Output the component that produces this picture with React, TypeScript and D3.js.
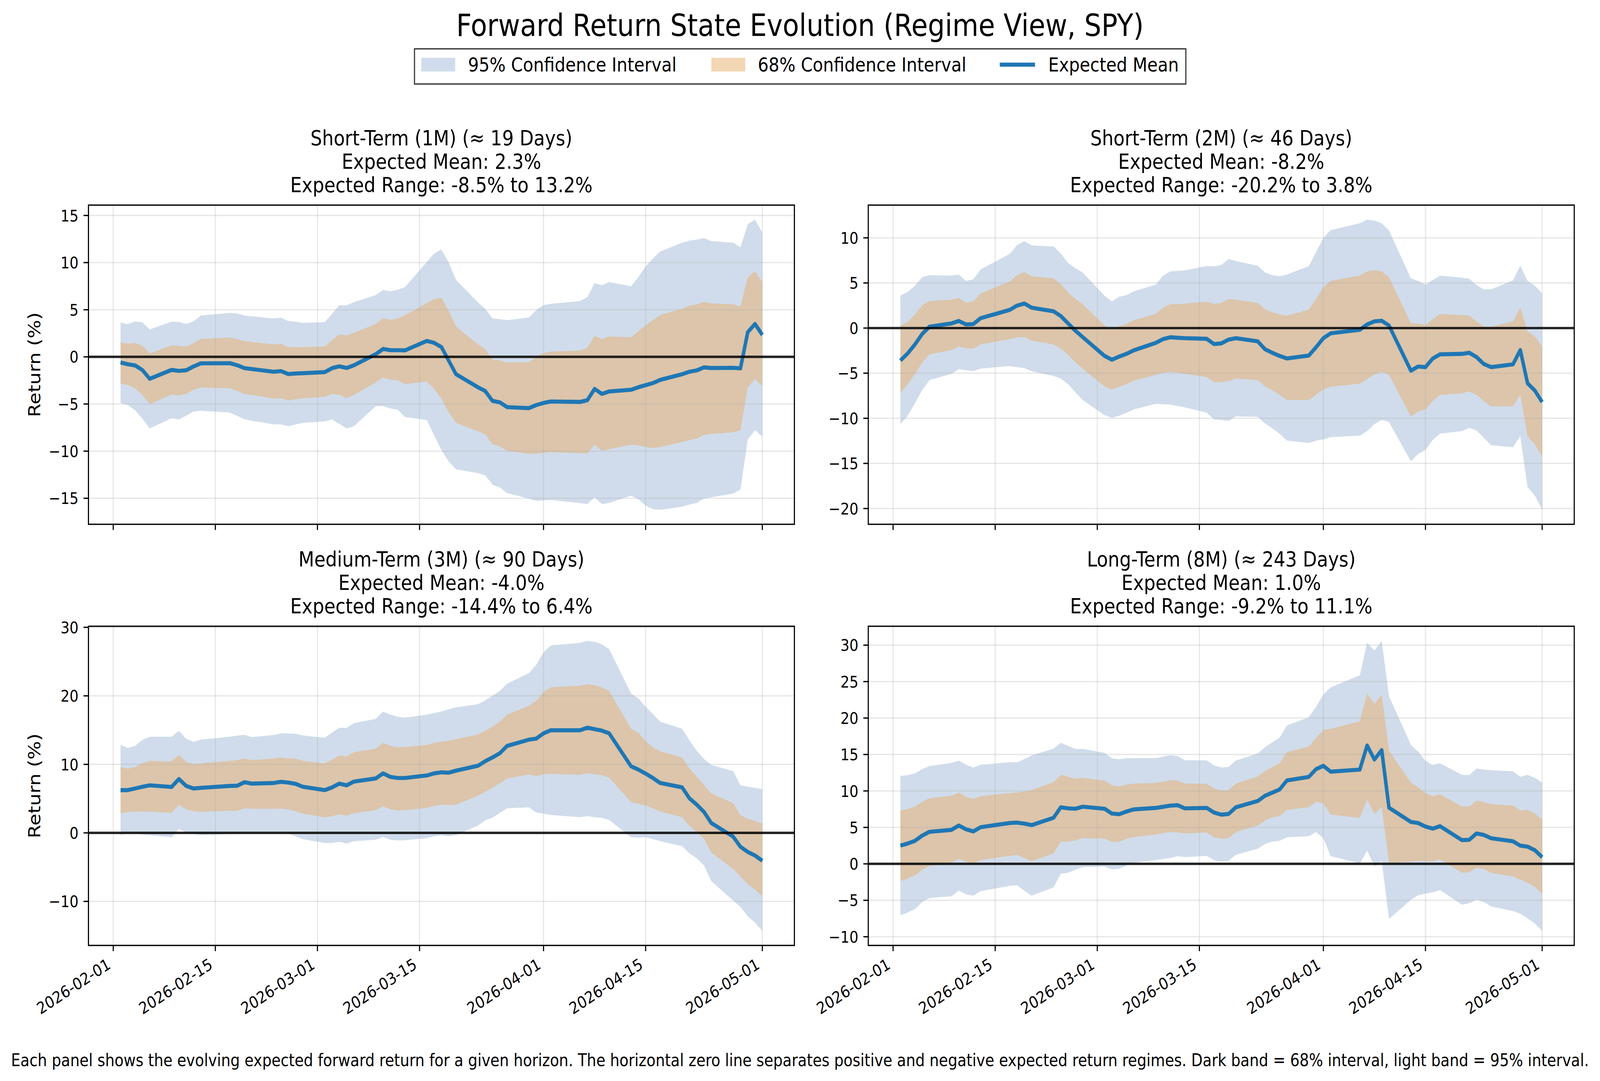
import React, { useEffect } from "react";
import * as d3 from "d3";

// ---------------- DATA ----------------
const DATES = [
  "2026-02-02","2026-02-03","2026-02-04","2026-02-05","2026-02-06","2026-02-09","2026-02-10","2026-02-11","2026-02-12","2026-02-13",
  "2026-02-17","2026-02-18","2026-02-19","2026-02-20","2026-02-23","2026-02-24","2026-02-25","2026-02-26","2026-02-27",
  "2026-03-02","2026-03-03","2026-03-04","2026-03-05","2026-03-06","2026-03-09","2026-03-10","2026-03-11","2026-03-12","2026-03-13",
  "2026-03-16","2026-03-17","2026-03-18","2026-03-19","2026-03-20","2026-03-23","2026-03-24","2026-03-25","2026-03-26","2026-03-27",
  "2026-03-30","2026-03-31",
  "2026-04-01","2026-04-02","2026-04-06","2026-04-07","2026-04-08","2026-04-09","2026-04-10","2026-04-13","2026-04-14","2026-04-15",
  "2026-04-16","2026-04-17","2026-04-20","2026-04-21","2026-04-22","2026-04-23","2026-04-24","2026-04-27","2026-04-28","2026-04-29",
  "2026-04-30","2026-05-01",
];

const X_TICKS = ["2026-02-01","2026-02-15","2026-03-01","2026-03-15","2026-04-01","2026-04-15","2026-05-01"];

// Panel 1: Short-Term (1M)
const MEAN_1M = [-0.60,-0.78,-0.91,-1.40,-2.33,-1.38,-1.49,-1.42,-1.02,-0.69,-0.67,-0.89,-1.20,-1.29,-1.58,-1.51,-1.82,-1.76,-1.73,-1.62,-1.20,-1.00,-1.18,-0.89,0.29,0.84,0.71,0.71,0.69,1.69,1.49,1.04,-0.40,-1.84,-3.22,-3.62,-4.67,-4.82,-5.33,-5.44,-5.11,-4.89,-4.73,-4.78,-4.60,-3.40,-3.93,-3.67,-3.49,-3.22,-3.00,-2.78,-2.44,-1.84,-1.58,-1.44,-1.11,-1.18,-1.16,-1.22,2.62,3.49,2.33];
const HI95_1M = [3.62,3.49,3.76,3.67,2.91,3.73,3.71,3.49,3.76,4.38,4.67,4.60,4.38,4.31,4.07,4.16,3.80,3.73,3.60,3.69,4.56,5.49,5.47,5.80,6.56,7.09,6.96,7.13,7.40,10.07,10.96,11.40,10.00,8.16,5.78,5.11,4.07,4.00,3.89,4.18,4.96,5.49,5.62,5.93,6.33,7.82,7.60,7.93,7.49,8.44,9.60,10.44,11.18,12.11,12.33,12.44,12.60,12.29,12.11,11.62,14.07,14.56,13.18];
const HI68_1M = [1.53,1.40,1.47,1.18,0.36,1.22,1.16,1.09,1.44,1.89,2.04,1.89,1.67,1.58,1.31,1.38,1.04,1.04,1.02,1.11,1.76,2.38,2.27,2.56,3.49,4.09,3.93,4.07,4.40,5.71,6.11,6.27,4.89,3.22,1.33,0.84,-0.29,-0.38,-0.60,-0.56,0.00,0.40,0.56,0.67,0.96,2.22,1.89,2.16,2.07,2.73,3.33,3.89,4.44,5.11,5.44,5.56,5.82,5.67,5.58,5.33,8.44,9.07,7.93];
const LO68_1M = [-2.82,-3.00,-3.33,-4.07,-5.00,-4.00,-4.09,-3.93,-3.49,-3.24,-3.33,-3.62,-3.96,-4.04,-4.42,-4.40,-4.62,-4.49,-4.40,-4.24,-3.93,-4.04,-4.38,-4.02,-2.73,-2.18,-2.44,-2.49,-2.89,-2.60,-3.40,-4.44,-5.89,-7.00,-7.89,-8.22,-9.27,-9.49,-9.96,-10.29,-10.27,-10.18,-10.11,-10.22,-10.24,-9.33,-9.96,-9.78,-9.33,-9.38,-9.56,-9.67,-9.56,-9.04,-8.82,-8.67,-8.27,-8.18,-8.00,-7.78,-3.22,-2.33,-3.11];
const LO95_1M = [-4.91,-5.11,-5.67,-6.56,-7.58,-6.51,-6.64,-6.24,-5.80,-5.71,-5.91,-6.27,-6.62,-6.78,-7.16,-7.16,-7.36,-7.16,-7.00,-6.84,-6.64,-7.11,-7.58,-7.36,-5.22,-5.22,-5.47,-5.60,-6.38,-6.69,-8.33,-9.89,-11.11,-11.93,-12.33,-12.56,-13.56,-13.84,-14.44,-15.04,-15.27,-15.22,-15.18,-15.51,-15.60,-14.89,-15.62,-15.49,-14.73,-15.11,-15.78,-16.16,-16.22,-15.89,-15.67,-15.49,-15.04,-14.89,-14.51,-14.07,-8.78,-7.78,-8.44];

// Panel 2: Short-Term (2M)
const MEAN_2M = [-3.60,-2.81,-1.81,-0.65,0.16,0.51,0.79,0.40,0.44,1.09,2.02,2.49,2.72,2.26,1.86,1.33,0.51,-0.30,-1.00,-3.09,-3.51,-3.16,-2.86,-2.47,-1.65,-1.23,-1.02,-1.07,-1.12,-1.19,-1.77,-1.70,-1.28,-1.12,-1.47,-2.35,-2.74,-3.09,-3.37,-3.05,-2.12,-1.12,-0.58,-0.19,0.40,0.74,0.81,0.28,-4.72,-4.26,-4.33,-3.37,-2.91,-2.86,-2.74,-3.21,-3.98,-4.33,-4.02,-2.44,-6.12,-6.93,-8.20];
const HI95_2M = [3.60,4.00,4.70,5.63,5.86,5.81,5.93,5.23,5.40,6.49,8.23,9.19,9.63,9.16,9.05,8.26,7.21,6.63,6.16,3.58,2.95,3.47,3.65,4.07,4.81,5.79,6.28,6.33,6.40,6.86,6.84,6.98,7.65,7.42,6.91,6.16,5.86,5.74,5.93,6.86,8.42,9.98,10.86,11.63,12.02,11.91,11.60,10.81,5.51,5.23,4.81,5.33,5.81,5.58,5.47,4.77,4.28,4.30,5.28,6.91,5.23,4.70,3.84];
const HI68_2M = [0.28,0.67,1.51,2.53,3.00,3.14,3.35,2.81,2.95,3.84,5.16,5.86,6.21,5.74,5.51,4.86,3.93,3.23,2.65,0.28,-0.19,0.21,0.44,0.86,1.56,2.26,2.65,2.65,2.72,2.91,2.67,2.77,3.23,3.14,2.79,2.07,1.74,1.49,1.37,2.02,3.23,4.51,5.23,5.81,6.28,6.40,6.28,5.63,0.51,0.51,0.33,0.98,1.56,1.44,1.37,0.74,0.16,0.16,0.74,2.26,-0.35,-0.95,-2.05];
const LO68_2M = [-7.16,-6.23,-5.07,-3.84,-2.91,-2.44,-2.05,-2.23,-2.28,-1.81,-1.23,-1.02,-1.00,-1.40,-1.81,-2.28,-2.98,-3.79,-4.49,-6.47,-6.81,-6.51,-6.23,-5.84,-5.19,-4.95,-4.86,-4.95,-5.07,-5.42,-6.00,-6.00,-5.88,-5.60,-5.77,-6.47,-6.88,-7.40,-7.98,-7.98,-7.40,-6.81,-6.51,-6.16,-5.65,-5.14,-4.84,-5.19,-9.79,-9.26,-9.02,-8.09,-7.40,-7.23,-7.00,-7.40,-8.09,-8.67,-8.67,-7.40,-11.98,-12.86,-14.26];
const LO95_2M = [-10.65,-9.72,-8.33,-6.86,-5.77,-5.07,-4.56,-4.67,-4.77,-4.49,-4.21,-4.33,-4.44,-4.79,-5.30,-5.60,-6.23,-7.12,-7.98,-9.65,-9.95,-9.72,-9.37,-9.02,-8.40,-8.44,-8.49,-8.63,-8.79,-9.37,-10.12,-10.19,-10.30,-9.79,-9.84,-10.58,-11.12,-11.70,-12.47,-12.74,-12.47,-12.33,-12.09,-11.93,-11.42,-10.65,-10.19,-10.42,-14.77,-13.95,-13.51,-12.40,-11.70,-11.42,-11.05,-11.35,-12.16,-12.98,-13.21,-11.98,-17.63,-18.56,-20.14];

// Panel 3: Medium-Term (3M)
const MEAN_3M = [6.24,6.24,6.48,6.73,6.94,6.70,7.86,6.85,6.48,6.57,6.85,6.88,7.40,7.19,7.28,7.46,7.34,7.16,6.73,6.24,6.64,7.19,6.94,7.49,7.95,8.69,8.17,8.01,8.01,8.38,8.69,8.84,8.78,9.08,9.79,10.46,11.01,11.62,12.69,13.61,13.76,14.53,14.98,14.98,15.35,15.14,14.92,14.53,9.72,9.24,8.65,8.01,7.28,6.64,5.05,4.13,3.06,1.44,-0.55,-2.02,-2.78,-3.30,-4.07];
const HI95_3M = [12.81,12.39,12.69,13.58,14.04,14.04,14.89,13.73,13.30,13.61,14.04,14.19,14.31,13.98,14.28,14.53,14.50,14.46,14.22,13.88,14.65,15.35,15.32,16.02,16.64,17.71,17.25,16.94,16.82,17.25,17.49,17.71,18.04,18.32,18.78,19.33,20.03,20.70,21.77,23.30,24.53,26.36,27.37,27.74,28.04,27.89,27.52,26.82,20.34,19.63,18.41,17.34,16.21,15.20,13.52,11.99,10.77,9.91,9.02,6.94,6.73,6.57,6.39];
const HI68_3M = [9.60,9.36,9.60,10.15,10.52,10.43,11.38,10.37,10.00,10.15,10.52,10.61,10.86,10.61,10.86,10.98,10.89,10.83,10.52,10.15,10.67,11.28,11.16,11.77,12.29,13.15,12.69,12.48,12.54,12.84,13.12,13.33,13.42,13.67,14.37,14.89,15.50,16.21,17.25,18.56,19.27,20.55,21.25,21.47,21.71,21.56,21.22,20.70,15.20,14.59,13.36,12.45,11.90,11.01,9.42,8.20,6.97,5.75,4.34,2.57,2.05,1.74,1.35];
const LO68_3M = [2.81,3.06,3.12,3.12,3.12,2.91,4.10,3.43,3.18,3.09,3.21,3.21,3.58,3.52,3.52,3.55,3.43,3.18,2.81,2.26,2.45,2.72,2.51,2.87,3.33,3.88,3.43,3.27,3.33,3.64,3.94,4.13,4.04,4.13,5.41,6.02,6.57,7.25,7.95,8.53,8.26,8.56,8.62,8.47,8.72,8.56,8.41,8.07,4.50,4.25,3.98,3.58,3.12,2.29,1.04,0.12,-0.86,-2.84,-5.29,-6.36,-7.49,-8.26,-9.27];
const LO95_3M = [-0.31,-0.03,-0.09,-0.24,-0.34,-0.64,0.61,0.06,-0.15,-0.31,-0.18,-0.18,0.12,0.06,0.06,0.06,-0.09,-0.49,-0.92,-1.47,-1.47,-1.31,-1.56,-1.22,-1.01,-0.61,-1.01,-1.10,-1.07,-0.76,-0.49,-0.34,-0.49,-0.31,1.07,1.83,2.20,2.91,3.58,3.73,2.97,2.81,2.60,2.29,2.45,2.29,2.20,1.89,-0.64,-0.70,-0.64,-0.92,-1.22,-1.93,-2.99,-3.70,-4.77,-7.03,-9.88,-10.80,-12.17,-13.09,-14.31];

// Panel 4: Long-Term (8M)
const MEAN_8M = [2.50,2.79,3.16,3.88,4.40,4.66,5.26,4.74,4.45,5.03,5.60,5.66,5.52,5.32,6.32,7.76,7.61,7.56,7.84,7.56,6.90,6.81,7.18,7.47,7.67,7.82,7.99,8.05,7.61,7.67,7.04,6.75,6.84,7.76,8.62,9.34,9.77,10.20,11.44,11.93,12.99,13.45,12.64,12.93,16.24,14.31,15.60,7.70,5.75,5.60,5.11,4.83,5.17,3.25,3.30,4.17,3.97,3.51,3.10,2.50,2.36,1.87,0.92];
const HI95_8M = [12.07,12.16,12.41,12.99,13.42,13.85,14.17,13.59,13.22,13.59,13.94,13.91,14.37,14.86,15.80,16.61,16.18,15.78,15.78,15.23,14.48,14.34,14.48,14.51,14.51,14.71,14.89,14.77,14.22,14.20,13.51,13.22,13.28,14.17,15.14,16.01,16.67,17.30,18.97,20.11,21.55,23.22,24.20,25.86,30.32,29.25,30.60,22.99,16.32,15.37,14.14,13.56,13.79,12.21,12.18,13.07,12.93,12.84,12.70,11.93,12.21,11.78,11.15];
const HI68_8M = [7.33,7.53,7.84,8.53,8.99,9.34,9.77,9.20,8.91,9.28,9.71,9.77,9.94,10.14,11.21,12.21,11.95,11.70,11.78,11.41,10.78,10.63,10.86,11.01,11.09,11.26,11.47,11.41,11.01,10.98,10.34,10.06,10.11,11.01,11.98,12.73,13.28,13.79,15.32,16.09,17.24,18.39,18.53,19.54,23.33,21.93,23.19,15.52,11.15,10.49,9.71,9.25,9.54,7.87,7.87,8.68,8.48,8.19,7.99,7.33,7.41,6.90,6.09];
const LO68_8M = [-2.36,-2.01,-1.58,-0.80,-0.29,0.14,0.72,0.29,0.06,0.52,1.09,1.21,0.78,0.37,1.44,3.07,3.07,3.22,3.53,3.45,3.02,3.02,3.45,3.68,4.02,4.22,4.37,4.31,4.17,4.31,3.65,3.45,3.51,4.37,5.26,5.95,6.38,6.55,7.41,7.76,8.53,8.28,6.75,6.32,8.82,6.84,7.76,0.14,0.29,0.43,0.34,0.34,0.63,-1.21,-1.15,-0.52,-0.72,-1.24,-1.72,-2.16,-2.59,-3.16,-4.11];
const LO95_8M = [-7.04,-6.67,-6.18,-5.23,-4.68,-4.45,-3.68,-4.17,-4.37,-3.74,-3.02,-2.93,-3.68,-4.37,-3.22,-1.35,-1.21,-0.80,-0.43,-0.37,-0.75,-0.66,-0.20,0.14,0.52,0.66,0.80,1.06,0.92,1.09,0.52,0.29,0.43,1.24,2.07,2.73,3.07,3.16,3.65,3.79,4.37,3.51,1.06,0.06,1.81,-0.34,0.37,-7.56,-4.94,-4.31,-4.08,-3.91,-3.59,-5.60,-5.40,-4.89,-5.23,-5.83,-6.47,-6.84,-7.47,-8.19,-9.20];

const TITLES_1M = ["Short-Term (1M) (≈ 19 Days)", "Expected Mean: 2.3%", "Expected Range: -8.5% to 13.2%"];
const TITLES_2M = ["Short-Term (2M) (≈ 46 Days)", "Expected Mean: -8.2%", "Expected Range: -20.2% to 3.8%"];
const TITLES_3M = ["Medium-Term (3M) (≈ 90 Days)", "Expected Mean: -4.0%", "Expected Range: -14.4% to 6.4%"];
const TITLES_8M = ["Long-Term (8M) (≈ 243 Days)", "Expected Mean: 1.0%", "Expected Range: -9.2% to 11.1%"];

const Y_TICKS_1M = [-15, -10, -5, 0, 5, 10, 15];
const Y_TICKS_2M = [-20, -15, -10, -5, 0, 5, 10];
const Y_TICKS_3M = [-10, 0, 10, 20, 30];
const Y_TICKS_8M = [-10, -5, 0, 5, 10, 15, 20, 25, 30];

const LEGEND_LABELS = ["95% Confidence Interval", "68% Confidence Interval", "Expected Mean"];
const MAIN_TITLE = "Forward Return State Evolution (Regime View, SPY)";
const Y_LABEL = "Return (%)";
const FOOTER =
  "Each panel shows the evolving expected forward return for a given horizon. The horizontal zero line separates positive and negative expected return regimes. Dark band = 68% interval, light band = 95% interval.";

// ---------------- LAYOUT / STYLE ----------------
const W = 4721;
const H = 2767;
const COL_X = [261, 2562];
const ROW_Y = [525, 1603];
const AX_W = 2083;
const AX_H = 817;
const FONT = "'DejaVu Sans', sans-serif";
const BLUE = "#1f77b4";
const C95 = "#b0c4de";
const O95 = 0.6;
const C68 = "#e8ae69";
const O68 = 0.5;
const SPINE_W = 3.33;
const TICK_LEN = 14.6;
const TICK_FS = 41.7;

const parse = d3.utcParse("%Y-%m-%d");
const dates = DATES.map((s) => parse(s) as Date);
const xTicks = X_TICKS.map((s) => parse(s) as Date);

const fmtY = (v: number) => (v < 0 ? "\u2212" + Math.abs(v) : String(v));

type PanelData = {
  key: string;
  titles: string[];
  mean: number[];
  hi95: number[];
  hi68: number[];
  lo68: number[];
  lo95: number[];
  yTicks: number[];
  col: number;
  row: number;
};

const PANELS: PanelData[] = [
  { key: "1m", titles: TITLES_1M, mean: MEAN_1M, hi95: HI95_1M, hi68: HI68_1M, lo68: LO68_1M, lo95: LO95_1M, yTicks: Y_TICKS_1M, col: 0, row: 0 },
  { key: "2m", titles: TITLES_2M, mean: MEAN_2M, hi95: HI95_2M, hi68: HI68_2M, lo68: LO68_2M, lo95: LO95_2M, yTicks: Y_TICKS_2M, col: 1, row: 0 },
  { key: "3m", titles: TITLES_3M, mean: MEAN_3M, hi95: HI95_3M, hi68: HI68_3M, lo68: LO68_3M, lo95: LO95_3M, yTicks: Y_TICKS_3M, col: 0, row: 1 },
  { key: "8m", titles: TITLES_8M, mean: MEAN_8M, hi95: HI95_8M, hi68: HI68_8M, lo68: LO68_8M, lo95: LO95_8M, yTicks: Y_TICKS_8M, col: 1, row: 1 },
];

function Panel({ p }: { p: PanelData }) {
  const x0 = COL_X[p.col];
  const y0 = ROW_Y[p.row];
  const t0 = dates[0].getTime();
  const t1 = dates[dates.length - 1].getTime();
  const tpad = (t1 - t0) * 0.05;
  const xs = d3.scaleUtc().domain([new Date(t0 - tpad), new Date(t1 + tpad)]).range([x0, x0 + AX_W]);
  const lo = d3.min(p.lo95) as number;
  const hi = d3.max(p.hi95) as number;
  const pad = (hi - lo) * 0.05;
  const ys = d3.scaleLinear().domain([lo - pad, hi + pad]).range([y0 + AX_H, y0]);

  const idx = d3.range(dates.length);
  const area95 = d3.area<number>().x((i) => xs(dates[i])).y0((i) => ys(p.lo95[i])).y1((i) => ys(p.hi95[i]));
  const area68 = d3.area<number>().x((i) => xs(dates[i])).y0((i) => ys(p.lo68[i])).y1((i) => ys(p.hi68[i]));
  const meanLine = d3.line<number>().x((i) => xs(dates[i])).y((i) => ys(p.mean[i]));

  const clipId = "clip-" + p.key;
  const cx = x0 + AX_W / 2;
  const showX = p.row === 1;

  return (
    <g>
      <defs>
        <clipPath id={clipId}>
          <rect x={x0} y={y0} width={AX_W} height={AX_H} />
        </clipPath>
      </defs>
      {p.titles.map((t, k) => (
        <text key={k} x={cx} y={y0 - 153 + k * 60} textAnchor="middle" fontSize={54} fontFamily={FONT} fill="#000">
          {t}
        </text>
      ))}
      <g clipPath={`url(#${clipId})`}>
        <path d={area95(idx) || ""} fill={C95} fillOpacity={O95} />
        <path d={area68(idx) || ""} fill={C68} fillOpacity={O68} />
        {xTicks.map((d, k) => (
          <line key={"gx" + k} x1={xs(d)} x2={xs(d)} y1={y0} y2={y0 + AX_H} stroke="#b0b0b0" strokeOpacity={0.3} strokeWidth={3.3} />
        ))}
        {p.yTicks.map((v, k) => (
          <line key={"gy" + k} x1={x0} x2={x0 + AX_W} y1={ys(v)} y2={ys(v)} stroke="#b0b0b0" strokeOpacity={0.3} strokeWidth={3.3} />
        ))}
        <path d={meanLine(idx) || ""} fill="none" stroke={BLUE} strokeWidth={10.4} strokeLinejoin="round" strokeLinecap="butt" />
        <line x1={x0} x2={x0 + AX_W} y1={ys(0)} y2={ys(0)} stroke="#000" strokeOpacity={0.85} strokeWidth={6.2} />
      </g>
      <rect x={x0} y={y0} width={AX_W} height={AX_H} fill="none" stroke="#000" strokeWidth={SPINE_W} />
      {p.yTicks.map((v, k) => (
        <g key={"yt" + k}>
          <line x1={x0 - TICK_LEN} x2={x0} y1={ys(v)} y2={ys(v)} stroke="#000" strokeWidth={SPINE_W} />
          <text x={x0 - TICK_LEN - 14.6} y={ys(v) + 15} textAnchor="end" fontSize={TICK_FS} fontFamily={FONT} fill="#000">
            {fmtY(v)}
          </text>
        </g>
      ))}
      {xTicks.map((d, k) => {
        const tx = xs(d);
        const ty = y0 + AX_H + TICK_LEN + 14.6;
        return (
          <g key={"xt" + k}>
            <line x1={tx} x2={tx} y1={y0 + AX_H} y2={y0 + AX_H + TICK_LEN} stroke="#000" strokeWidth={SPINE_W} />
            {showX && (
              <text
                x={tx - 5}
                y={ty + 27.5}
                transform={`rotate(-30 ${tx - 5} ${ty + 27.5})`}
                textAnchor="end"
                fontSize={TICK_FS}
                fontFamily={FONT}
                fill="#000"
              >
                {X_TICKS[k]}
              </text>
            )}
          </g>
        );
      })}
      {p.col === 0 && (
        <text
          x={119}
          y={y0 + AX_H / 2}
          transform={`rotate(-90 119 ${y0 + AX_H / 2})`}
          textAnchor="middle"
          fontSize={50}
          fontFamily={FONT}
          fill="#000"
        >
          {Y_LABEL}
        </text>
      )}
    </g>
  );
}

function Legend() {
  const patchY = 148;
  const baseY = 183.5;
  return (
    <g>
      <rect x={1223} y={125} width={2276} height={90} fill="#fff" fillOpacity={0.8} stroke="#000" strokeOpacity={0.8} strokeWidth={3.3} />
      <rect x={1243} y={patchY} width={100} height={35} fill={C95} fillOpacity={O95} />
      <text x={1381} y={baseY} fontSize={50} fontFamily={FONT} fill="#000">
        {LEGEND_LABELS[0]}
      </text>
      <rect x={2099} y={patchY} width={100} height={35} fill={C68} fillOpacity={O68} />
      <text x={2236} y={baseY} fontSize={50} fontFamily={FONT} fill="#000">
        {LEGEND_LABELS[1]}
      </text>
      <line x1={2950} x2={3054} y1={165.5} y2={165.5} stroke={BLUE} strokeWidth={10.4} />
      <text x={3093} y={baseY} fontSize={50} fontFamily={FONT} fill="#000">
        {LEGEND_LABELS[2]}
      </text>
    </g>
  );
}

export default function App() {
  useEffect(() => {
    document.body.style.margin = "0";
    document.body.style.overflow = "hidden";
  }, []);
  return (
    <svg
      viewBox={`0 0 ${W} ${H}`}
      preserveAspectRatio="none"
      style={{ position: "fixed", left: 0, top: 0, width: "100vw", height: "100vh", background: "#fff", display: "block" }}
    >
      <rect x={0} y={0} width={W} height={H} fill="#fff" />
      <text x={W / 2} y={92} textAnchor="middle" fontSize={79.2} fontFamily={FONT} fill="#000">
        {MAIN_TITLE}
      </text>
      <Legend />
      {PANELS.map((p) => (
        <Panel key={p.key} p={p} />
      ))}
      <text x={W / 2} y={2729} textAnchor="middle" fontSize={43.7} fontFamily={FONT} fill="#000">
        {FOOTER}
      </text>
    </svg>
  );
}
